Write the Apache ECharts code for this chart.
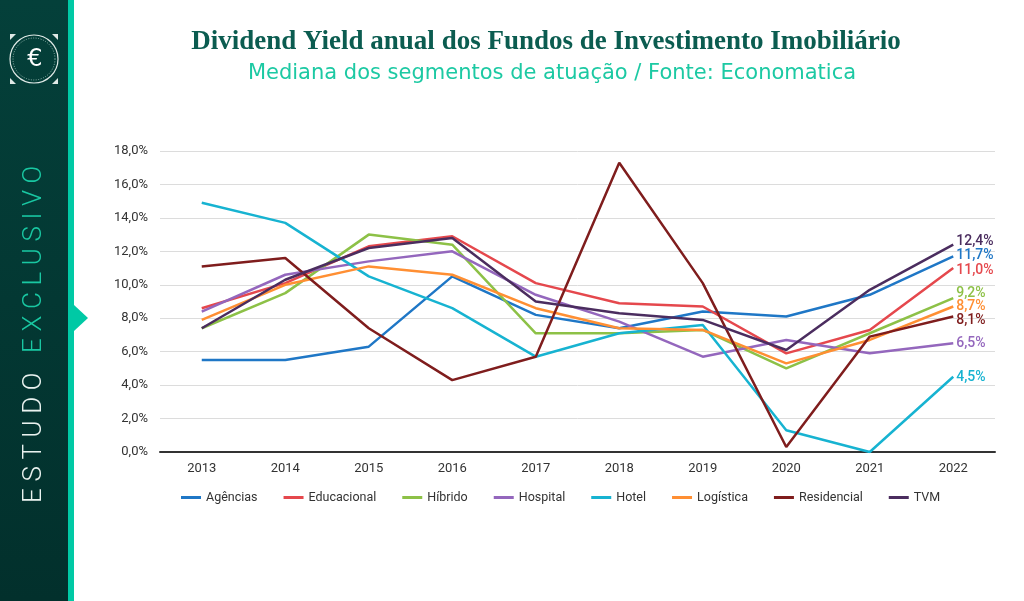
<!DOCTYPE html>
<html><head><meta charset="utf-8">
<script src="https://cdn.jsdelivr.net/npm/echarts@6/dist/echarts.min.js"></script>
<style>html,body{margin:0;padding:0;background:#fff;}#c{width:1024px;height:601px;}</style>
</head><body><div id="c"></div>
<script>
var years = ['2013','2014','2015','2016','2017','2018','2019','2020','2021','2022'];
var seriesNames = ['Agências','Educacional','Híbrido','Hospital','Hotel','Logística','Residencial','TVM'];
var agencias    = [5.5, 5.5, 6.3, 10.5, 8.2, 7.4, 8.4, 8.1, 9.4, 11.7];
var educacional = [8.6, 10.1, 12.3, 12.9, 10.1, 8.9, 8.7, 5.9, 7.3, 11.0];
var hibrido     = [7.4, 9.5, 13.0, 12.4, 7.1, 7.1, 7.3, 5.0, 7.1, 9.2];
var hospital    = [8.4, 10.6, 11.4, 12.0, 9.4, 7.8, 5.7, 6.7, 5.9, 6.5];
var hotel       = [14.9, 13.7, 10.5, 8.6, 5.7, 7.1, 7.6, 1.3, 0.0, 4.5];
var logistica   = [7.9, 10.0, 11.1, 10.6, 8.6, 7.4, 7.3, 5.3, 6.7, 8.7];
var residencial = [11.1, 11.6, 7.4, 4.3, 5.7, 17.3, 10.1, 0.3, 6.9, 8.1];
var tvm         = [7.4, 10.3, 12.2, 12.8, 9.0, 8.3, 7.9, 6.1, 9.7, 12.4];
var allData = [agencias, educacional, hibrido, hospital, hotel, logistica, residencial, tvm];
var colors = ['#1f77c6','#e5484d','#8dc147','#9467bd','#17b3d1','#ff8f33','#7f1d1d','#4b2d5f'];
var labelOffsets = [[0,-1],[0,2],[0,-5],[0,0],[0,1],[0,0],[0,4],[0,-3]];

function fmt(v){ return v.toFixed(1).replace('.', ',') + '%'; }

var chart = echarts.init(document.getElementById('c'));

// sidebar vertical letters
var measure = document.createElement('canvas').getContext('2d');
var sideFont = '300 26px Roboto';
measure.font = sideFont;
var words = [{t:'ESTUDO', c:'#e9f2ef'}, {t:' ', c:'#fff'}, {t:'EXCLUSIVO', c:'#19c7a2'}];
var spacing = 6.6;
var yPos = 503;
var sideEls = [];
words.forEach(function(w){
  for (var i=0;i<w.t.length;i++){
    var ch = w.t[i];
    var wdt = measure.measureText(ch).width;
    if (ch !== ' ') {
      sideEls.push({type:'text', x:34, y:yPos, rotation:Math.PI/2,
        style:{text:ch, fill:w.c, font:sideFont, align:'left', verticalAlign:'middle'}, z:10});
    }
    yPos -= (wdt + spacing);
  }
});

var graphics = [
  {type:'rect', shape:{x:0,y:0,width:69,height:601}, style:{fill:new echarts.graphic.LinearGradient(0,0,0,1,[{offset:0,color:'#04403a'},{offset:1,color:'#02302c'}])}, z:1},
  {type:'rect', shape:{x:68,y:0,width:6,height:601}, style:{fill:'#00c9a5'}, z:2},
  {type:'polygon', shape:{points:[[74,305],[88,318],[74,331]]}, style:{fill:'#00c9a5'}, z:2},
  {type:'circle', shape:{cx:34, cy:59, r:24}, style:{fill:'none', stroke:'#dfe9e6', lineWidth:1.2}, z:5},
  {type:'circle', shape:{cx:34, cy:59, r:21}, style:{fill:'none', stroke:'#8fb3ab', lineWidth:1, lineDash:[1,1.5]}, z:5},
  {type:'text', x:35, y:60, style:{text:'€', fill:'#ffffff', font:'24px "DejaVu Sans"', align:'center', verticalAlign:'middle'}, z:6},
  {type:'polygon', shape:{points:[[10,34],[16,34],[10,40]]}, style:{fill:'#dfe9e6'}, z:5},
  {type:'polygon', shape:{points:[[58,34],[52,34],[58,40]]}, style:{fill:'#dfe9e6'}, z:5},
  {type:'polygon', shape:{points:[[10,84],[16,84],[10,78]]}, style:{fill:'#dfe9e6'}, z:5},
  {type:'polygon', shape:{points:[[58,84],[52,84],[58,78]]}, style:{fill:'#dfe9e6'}, z:5},
  {type:'text', x:546, y:42, style:{text:'Dividend Yield anual dos Fundos de Investimento Imobiliário', fill:'#0b5c50', font:'bold 27px "Liberation Serif"', align:'center', verticalAlign:'middle'}, z:5},
  {type:'text', x:552, y:74, style:{text:'Mediana dos segmentos de atuação / Fonte: Economatica', fill:'#1cc9a3', font:'21px "DejaVu Sans"', align:'center', verticalAlign:'middle'}, z:5}
].concat(sideEls);

var series = seriesNames.map(function(n, i){
  return {
    name:n, type:'line', data:allData[i], symbol:'none', smooth:false,
    lineStyle:{width:2.5, color:colors[i]}, itemStyle:{color:colors[i]},
    endLabel:{show:true, formatter:function(p){return fmt(p.value);}, color:colors[i], fontSize:14, fontFamily:'Roboto', fontWeight:500, distance:3, offset:labelOffsets[i]},
    emphasis:{disabled:true}, animation:false
  };
});

chart.setOption({
  animation:false,
  backgroundColor:'#ffffff',
  graphic:graphics,
  grid:{left:160, right:29, top:151, bottom:149, containLabel:false},
  legend:{
    data:seriesNames, bottom:92, left:176, itemWidth:20, itemHeight:3, icon:'rect', itemGap:26,
    textStyle:{fontSize:12.5, color:'#333', fontFamily:'Roboto'}
  },
  xAxis:{type:'category', data:years, boundaryGap:true,
    axisLine:{lineStyle:{color:'#333', width:2}}, axisTick:{show:false},
    axisLabel:{fontSize:13, color:'#333', margin:10, fontFamily:'Roboto'}},
  yAxis:{type:'value', min:0, max:18, interval:2,
    axisLine:{show:false}, axisTick:{show:false},
    splitLine:{lineStyle:{color:'#dcdcdc', width:1}},
    axisLabel:{fontSize:13, color:'#333', margin:12, fontFamily:'Roboto', formatter:function(v){return fmt(v);}}},
  series:series
});
</script></body></html>
